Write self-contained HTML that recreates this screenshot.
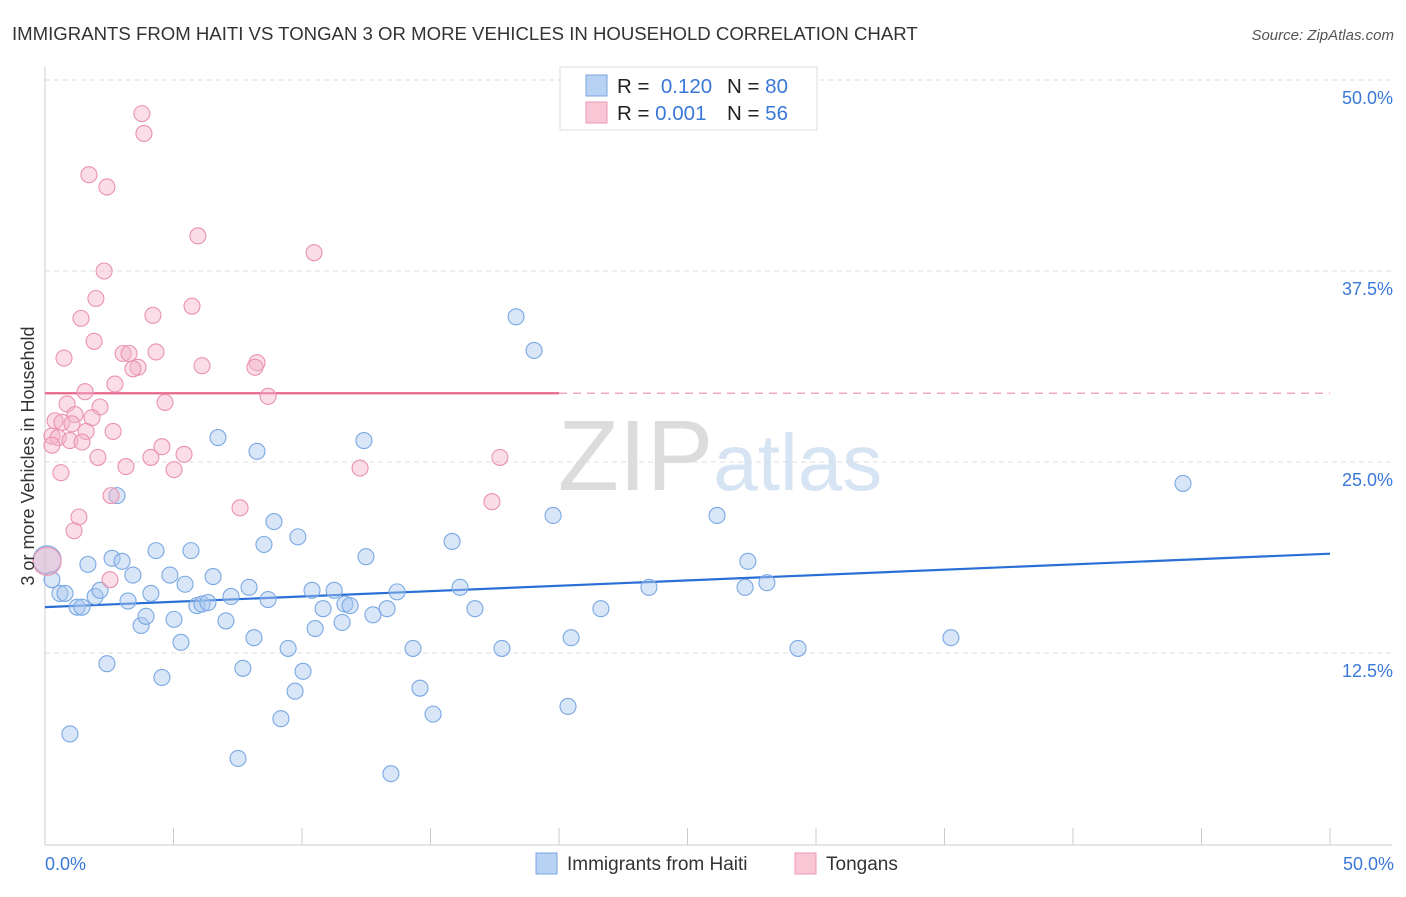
<!DOCTYPE html>
<html><head><meta charset="utf-8">
<style>
body{margin:0;background:#fff;font-family:"Liberation Sans",sans-serif;}
svg text{font-family:"Liberation Sans",sans-serif;}
</style></head>
<body>
<svg id="chart" width="1406" height="892" xmlns="http://www.w3.org/2000/svg">
<text x="12" y="40" font-size="18.6" fill="#333">IMMIGRANTS FROM HAITI VS TONGAN 3 OR MORE VEHICLES IN HOUSEHOLD CORRELATION CHART</text>
<text x="1394" y="40" font-size="15" fill="#555" font-style="italic" text-anchor="end">Source: ZipAtlas.com</text>
<text x="720" y="490" font-size="100" fill="#e4e4e4" text-anchor="middle" font-family="Liberation Serif"><tspan fill="#dcdcdc">ZIP</tspan><tspan fill="#d6e4f4" font-family="Liberation Sans" font-size="80">atlas</tspan></text>
<g id="grid"></g>
<g id="axes"></g>
<g id="lines"></g>
<g id="points"></g>
<text x="0" y="0" transform="translate(34,456) rotate(-90)" font-size="18" fill="#333" text-anchor="middle">3 or more Vehicles in Household</text>
<text x="45" y="870" font-size="18" fill="#3a78d8">0.0%</text>
<text x="1394" y="870" font-size="18" fill="#3a78d8" text-anchor="end">50.0%</text>
<g>
<rect x="560" y="67" width="257" height="63" fill="#fff" stroke="#ddd"/>
<rect x="586" y="75" width="21" height="21" fill="#b8d2f4" stroke="#7aa6e2"/>
<rect x="586" y="102" width="21" height="21" fill="#f9c6d6" stroke="#ec9ab5"/>
<text x="617" y="93" font-size="20.5" fill="#222">R = <tspan fill="#3a78d8">&#160;0.120</tspan><tspan x="727">N = </tspan><tspan fill="#3a78d8">80</tspan></text>
<text x="617" y="120" font-size="20.5" fill="#222">R = <tspan fill="#3a78d8">0.001</tspan><tspan x="727">N = </tspan><tspan fill="#3a78d8">56</tspan></text>
</g>
<g>
<rect x="536" y="853" width="21" height="21" fill="#b8d2f4" stroke="#7aa6e2"/>
<text x="567" y="870" font-size="19" fill="#333">Immigrants from Haiti</text>
<rect x="795" y="853" width="21" height="21" fill="#f9c6d6" stroke="#ec9ab5"/>
<text x="826" y="870" font-size="19" fill="#333">Tongans</text>
</g>
</svg>
<script>
const yTicks=[12.5,25,37.5,50];
const yTickLabels=["12.5%","25.0%","37.5%","50.0%"];
const xTicks=[0,5,10,15,20,25,30,35,40,45,50];
const haitiX=[0.08,0.27,0.58,0.78,0.97,1.25,1.44,1.67,1.95,2.14,2.41,2.61,2.80,3.0,3.23,3.42,3.74,3.93,4.12,4.32,4.55,4.86,5.02,5.29,5.45,5.68,5.91,6.11,6.34,6.54,6.73,7.04,7.24,7.51,7.70,7.94,8.13,8.25,8.52,8.68,8.91,9.18,9.46,9.73,9.84,10.04,10.39,10.51,10.82,11.25,11.56,11.67,11.87,12.41,12.49,12.76,13.31,13.46,13.70,14.32,14.59,15.10,15.84,16.15,16.73,17.78,18.33,19.03,19.77,20.35,20.47,21.63,23.50,26.15,27.24,27.35,28.09,29.30,35.25,44.28];
const haitiY=[18.6,17.3,16.4,16.4,7.2,15.5,15.5,18.3,16.2,16.6,11.8,18.7,22.8,18.5,15.9,17.6,14.3,14.9,16.4,19.2,10.9,17.6,14.7,13.2,17.0,19.2,15.6,15.7,15.8,17.5,26.6,14.6,16.2,5.6,11.5,16.8,13.5,25.7,19.6,16.0,21.1,8.2,12.8,10.0,20.1,11.3,16.6,14.1,15.4,16.6,14.5,15.7,15.6,26.4,18.8,15.0,15.4,4.6,16.5,12.8,10.2,8.5,19.8,16.8,15.4,12.8,34.5,32.3,21.5,9.0,13.5,15.4,16.8,21.5,16.8,18.5,17.1,12.8,13.5,23.6];
const tonganX=[3.77,3.85,1.71,2.41,5.95,10.47,2.30,1.98,5.72,1.40,4.20,1.91,0.74,3.04,3.27,4.32,3.62,3.42,6.11,8.25,8.17,2.72,1.56,8.68,4.67,0.86,2.14,1.17,1.83,0.39,0.66,1.05,1.60,2.65,0.27,0.51,0.97,1.44,0.27,4.55,5.41,4.12,2.06,3.15,5.02,12.26,17.70,0.62,2.57,17.39,7.59,1.32,1.13,0.08,2.53];
const tonganY=[47.8,46.5,43.8,43.0,39.8,38.7,37.5,35.7,35.2,34.4,34.6,32.9,31.8,32.1,32.1,32.2,31.2,31.1,31.3,31.5,31.2,30.1,29.6,29.3,28.9,28.8,28.6,28.1,27.9,27.7,27.6,27.5,27.0,27.0,26.7,26.6,26.4,26.3,26.1,26.0,25.5,25.3,25.3,24.7,24.5,24.6,25.3,24.3,22.8,22.4,22.0,21.4,20.5,18.5,17.3];
const haitiTrend=[15.5,19.0];
const tonganTrend=[29.5,29.5];
const X0=45,X1=1330,Y0=844,Y1=80;
const sx=v=>X0+(v/50)*(X1-X0);
const sy=v=>Y0-(v/50)*(Y0-Y1);
const NS="http://www.w3.org/2000/svg";
function mk(tag,attrs,parent){const e=document.createElementNS(NS,tag);for(const k in attrs)e.setAttribute(k,attrs[k]);document.getElementById(parent).appendChild(e);return e;}
yTicks.forEach((t,i)=>{
 const g=mk('line',{x1:X0,x2:1392,y1:sy(t),y2:sy(t),stroke:'#dcdcdc','stroke-dasharray':'5,4'},'grid');
 
 
 const tx=mk('text',{x:1393,y:sy(t)+24,'font-size':18,fill:'#3a78d8','text-anchor':'end'},'grid');
 tx.textContent=yTickLabels[i];
 
 
});
const ya=mk('line',{x1:X0,x2:X0,y1:67,y2:845,stroke:'#ccc'},'axes');


const xa=mk('line',{x1:X0,x2:1392,y1:845,y2:845,stroke:'#ccc'},'axes');


xTicks.forEach(t=>{
 const l=mk('line',{x1:sx(t),x2:sx(t),y1:828,y2:845,stroke:'#ccc'},'axes');
 
 
});
function pts(xs,ys,fill,stroke,name){
 xs.forEach((x,i)=>{
  const big=x<0.2;
  const c=mk('circle',{cx:sx(x),cy:sy(ys[i]),r:big?14:8,fill:fill,'fill-opacity':0.45,stroke:stroke,'stroke-width':1.1},'points');
  
  
 });
}
pts(haitiX,haitiY,'#a9c8f0','#7aa8e4','haiti-point');
pts(tonganX,tonganY,'#f5b4c8','#ea92b0','tongan-point');
const hl=mk('line',{x1:sx(0),x2:sx(50),y1:sy(haitiTrend[0]),y2:sy(haitiTrend[1]),stroke:'#2a6fd6','stroke-width':2.2},'lines');


const tl=mk('line',{x1:sx(0),x2:sx(20),y1:sy(tonganTrend[0]),y2:sy(tonganTrend[0]+(tonganTrend[1]-tonganTrend[0])*0.4),stroke:'#e8668c','stroke-width':2.2},'lines');


const td=mk('line',{x1:sx(20),x2:sx(50),y1:sy(tonganTrend[0]+(tonganTrend[1]-tonganTrend[0])*0.4),y2:sy(tonganTrend[1]),stroke:'#f0a8bd','stroke-width':1.5,'stroke-dasharray':'8,6'},'lines');


</script>
</body></html>
